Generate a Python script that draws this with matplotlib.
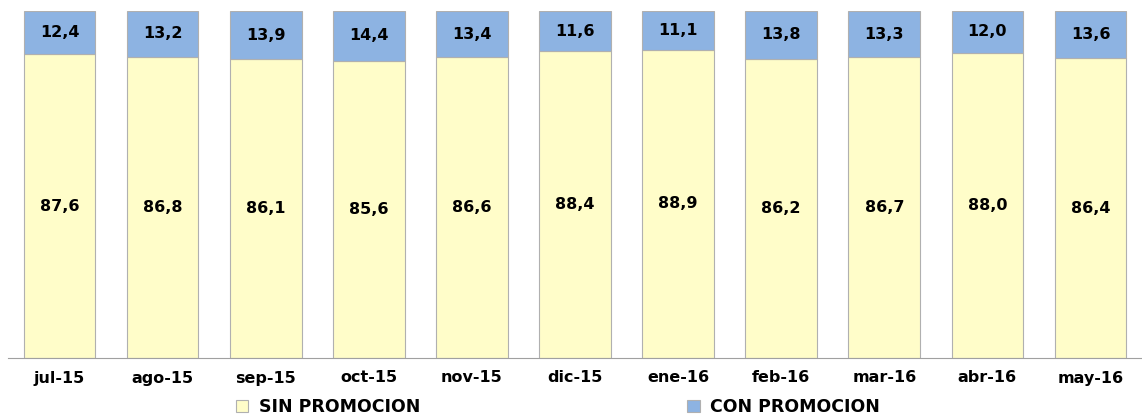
#!/usr/bin/env python3

import matplotlib
matplotlib.use('Agg')
import matplotlib.pyplot as plt
import numpy as np

months = ['jul-15', 'ago-15', 'sep-15', 'oct-15', 'nov-15', 'dic-15',
          'ene-16', 'feb-16', 'mar-16', 'abr-16', 'may-16']
sin_promo = [87.6, 86.8, 86.1, 85.6, 86.6, 88.4, 88.9, 86.2, 86.7, 88.0, 86.4]
con_promo = [12.4, 13.2, 13.9, 14.4, 13.4, 11.6, 11.1, 13.8, 13.3, 12.0, 13.6]

YELLOW = '#FFFDC9'
BLUE = '#8DB3E2'

plt.rcParams['font.family'] = ['DejaVu Sans']

fig = plt.figure(figsize=(11.42, 4.17), dpi=100)
ax = fig.add_axes([8 / 1142, 1 - 358 / 417, 1 - 8 / 1142, (358 - 11) / 417])

x = np.arange(len(months))
width = 0.695
b1 = ax.bar(x, sin_promo, width, color=YELLOW, edgecolor='#B0B0B0', lw=0.8,
            label='SIN PROMOCION')
b2 = ax.bar(x, con_promo, width, bottom=sin_promo, color=BLUE,
            edgecolor='#B0B0B0', lw=0.8, label='CON PROMOCION')

fmt = lambda v: f'{v:.1f}'.replace('.', ',')
for i in range(len(months)):
    ax.text(x[i], sin_promo[i] / 2, fmt(sin_promo[i]), ha='center', va='center',
            fontsize=11.5, fontweight='bold', color='black')
    ax.text(x[i], sin_promo[i] + con_promo[i] / 2, fmt(con_promo[i]),
            ha='center', va='center', fontsize=11.5, fontweight='bold', color='black')

ax.set_xlim(-0.5, len(months) - 0.5)
ax.set_ylim(0, 100)
ax.set_xticks(x)
ax.set_xticklabels(months, fontsize=11.5, fontweight='bold')
ax.tick_params(axis='x', length=0, pad=9)
ax.set_yticks([])
for s in ['top', 'right', 'left']:
    ax.spines[s].set_visible(False)
ax.spines['bottom'].set_color('#A0A0A0')

leg = fig.legend(handles=[b1, b2], loc='center', bbox_to_anchor=(558 / 1142, 1 - 407 / 417),
                 ncol=2, frameon=False, columnspacing=15.4, handlelength=0.7,
                 handleheight=0.7, handletextpad=0.6,
                 prop={'weight': 'bold', 'size': 12.5})

plt.savefig('out.png', dpi=100)
